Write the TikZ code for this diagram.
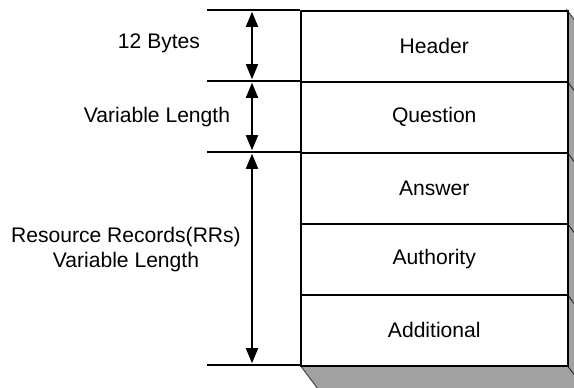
\documentclass[tikz,border=0pt]{standalone}
\usepackage{fontspec}
\setmainfont{Liberation Sans}
\usetikzlibrary{arrows.meta}

\begin{document}
\begin{tikzpicture}[x=0.02cm, y=-0.02cm, line width=0.9pt,
    txt/.style={font=\fontsize{12}{14.2}\selectfont},
    field/.style={txt, draw, fill=white, minimum width=5.34cm,
      minimum height=1.42cm, anchor=north west, inner sep=0pt},
    dim/.style={{Triangle[length=0.3cm,width=0.24cm]}-{Triangle[length=0.3cm,width=0.24cm]},
      shorten <=1pt, shorten >=1pt}]

  \useasboundingbox (0,0) rectangle (574,388);
  \clip (0,0) rectangle (574,388);

  % Shadow
  \filldraw[fill=black!37, draw=black!70, line width=0.6pt] (567,10)
    -- (591,42) -- (591,397) -- (324,397) -- (300,365) -- (567,365) -- cycle;
  \foreach \y in {81,152,223,294,365} {
    \draw[black!80, line width=0.6pt] (567,\y) -- ++(24,32);
  }

  % Message fields
  \foreach \i/\name in {0/Header, 1/Question, 2/Answer, 3/Authority, 4/Additional} {
    \node[field] (f\i) at (300,{10+71*\i}) {\name};
  }

  % Dimension lines
  \foreach \i/\y in {0/10, 1/81, 2/152, 3/365} {
    \coordinate (l\i) at (207,\y);
    \coordinate (t\i) at (252,\y);
    \draw (l\i) -- (l\i -| f0.west);
  }
  \draw[dim] (t0) -- (t1);
  \draw[dim] (t1) -- (t2);
  \draw[dim] (t2) -- (t3);

  % Labels
  \node[txt] (bytes) at (159,43) {12 Bytes};
  \node[txt] (qlen) at (157,117) {Variable Length};
  \node[txt, align=center] (rrs) at (126,250) {Resource Records(RRs)\\Variable Length};
\end{tikzpicture}
\end{document}
